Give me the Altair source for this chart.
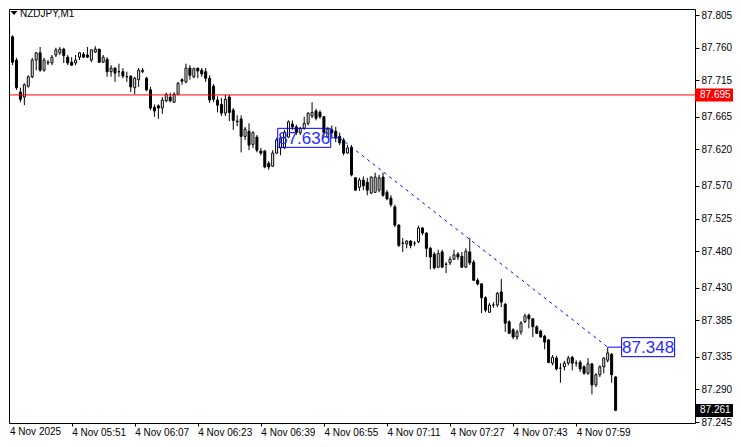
import altair as alt
import pandas as pd

# ---------------- data ----------------
symbol_title = "NZDJPY,M1"

opens = [87.787, 87.775, 87.743, 87.699, 87.692, 87.707, 87.720, 87.743, 87.753, 87.729,
         87.739, 87.739, 87.750, 87.753, 87.758, 87.747, 87.740, 87.739, 87.747, 87.751,
         87.750, 87.743, 87.754, 87.758, 87.740, 87.744, 87.727, 87.732, 87.727, 87.727,
         87.720, 87.721, 87.705, 87.716, 87.727, 87.718, 87.702, 87.678, 87.680, 87.677,
         87.687, 87.692, 87.685, 87.696, 87.716, 87.713, 87.732, 87.720, 87.732, 87.729,
         87.727, 87.718, 87.707, 87.688, 87.682, 87.670, 87.692, 87.674, 87.659, 87.662,
         87.638, 87.645, 87.627, 87.637, 87.618, 87.618, 87.601, 87.597, 87.615, 87.622,
         87.622, 87.637, 87.655, 87.651, 87.643, 87.649, 87.656, 87.666, 87.673, 87.671,
         87.665, 87.637, 87.647, 87.645, 87.638, 87.633, 87.615, 87.623, 87.581, 87.568,
         87.578, 87.575, 87.560, 87.561, 87.564, 87.582, 87.561, 87.553, 87.541, 87.516,
         87.491, 87.490, 87.494, 87.491, 87.493, 87.512, 87.505, 87.484, 87.476, 87.458,
         87.479, 87.462, 87.464, 87.469, 87.476, 87.473, 87.458, 87.479, 87.465, 87.440,
         87.435, 87.416, 87.396, 87.406, 87.406, 87.424, 87.407, 87.383, 87.372, 87.362,
         87.369, 87.383, 87.392, 87.387, 87.376, 87.370, 87.363, 87.358, 87.326, 87.333,
         87.319, 87.321, 87.326, 87.334, 87.326, 87.327, 87.321, 87.312, 87.325, 87.296,
         87.310, 87.321, 87.330, 87.338, 87.307]

highs = [87.791, 87.777, 87.746, 87.705, 87.711, 87.722, 87.746, 87.754, 87.761, 87.746,
         87.743, 87.750, 87.760, 87.761, 87.760, 87.750, 87.747, 87.750, 87.754, 87.754,
         87.761, 87.757, 87.762, 87.758, 87.750, 87.747, 87.736, 87.733, 87.738, 87.732,
         87.727, 87.722, 87.720, 87.732, 87.732, 87.720, 87.706, 87.682, 87.682, 87.692,
         87.698, 87.698, 87.699, 87.713, 87.718, 87.738, 87.736, 87.733, 87.732, 87.732,
         87.732, 87.722, 87.710, 87.693, 87.691, 87.695, 87.695, 87.677, 87.667, 87.667,
         87.651, 87.656, 87.645, 87.640, 87.622, 87.619, 87.604, 87.619, 87.636, 87.638,
         87.647, 87.660, 87.660, 87.654, 87.651, 87.665, 87.671, 87.685, 87.676, 87.674,
         87.666, 87.651, 87.653, 87.651, 87.643, 87.636, 87.626, 87.626, 87.582, 87.581,
         87.583, 87.581, 87.583, 87.588, 87.585, 87.588, 87.564, 87.557, 87.544, 87.517,
         87.498, 87.495, 87.495, 87.494, 87.515, 87.513, 87.506, 87.486, 87.479, 87.482,
         87.482, 87.465, 87.473, 87.482, 87.479, 87.479, 87.484, 87.498, 87.468, 87.443,
         87.436, 87.418, 87.409, 87.410, 87.424, 87.442, 87.409, 87.385, 87.374, 87.372,
         87.384, 87.394, 87.394, 87.388, 87.378, 87.372, 87.365, 87.359, 87.337, 87.336,
         87.326, 87.329, 87.336, 87.336, 87.330, 87.330, 87.323, 87.333, 87.326, 87.312,
         87.323, 87.334, 87.348, 87.340, 87.308]

lows = [87.766, 87.736, 87.702, 87.685, 87.681, 87.705, 87.718, 87.729, 87.727, 87.727,
        87.736, 87.736, 87.747, 87.750, 87.739, 87.736, 87.735, 87.736, 87.743, 87.746,
        87.746, 87.740, 87.753, 87.739, 87.739, 87.720, 87.720, 87.713, 87.720, 87.718,
        87.713, 87.699, 87.696, 87.706, 87.725, 87.700, 87.674, 87.665, 87.662, 87.669,
        87.685, 87.685, 87.684, 87.695, 87.709, 87.711, 87.716, 87.718, 87.718, 87.720,
        87.713, 87.684, 87.685, 87.671, 87.666, 87.666, 87.659, 87.647, 87.652, 87.616,
        87.633, 87.619, 87.622, 87.616, 87.612, 87.594, 87.592, 87.596, 87.614, 87.612,
        87.621, 87.636, 87.647, 87.640, 87.640, 87.647, 87.653, 87.663, 87.660, 87.662,
        87.637, 87.636, 87.637, 87.630, 87.626, 87.612, 87.614, 87.583, 87.563, 87.563,
        87.564, 87.557, 87.559, 87.560, 87.561, 87.555, 87.550, 87.541, 87.513, 87.486,
        87.479, 87.484, 87.484, 87.487, 87.491, 87.502, 87.472, 87.455, 87.455, 87.457,
        87.457, 87.450, 87.461, 87.468, 87.468, 87.457, 87.457, 87.461, 87.439, 87.433,
        87.395, 87.396, 87.395, 87.402, 87.403, 87.403, 87.369, 87.366, 87.359, 87.358,
        87.365, 87.381, 87.374, 87.362, 87.366, 87.361, 87.345, 87.326, 87.323, 87.316,
        87.299, 87.316, 87.323, 87.316, 87.321, 87.314, 87.310, 87.310, 87.283, 87.293,
        87.307, 87.312, 87.327, 87.299, 87.260]

closes = [87.775, 87.740, 87.705, 87.689, 87.709, 87.720, 87.743, 87.753, 87.729, 87.743,
          87.740, 87.747, 87.757, 87.758, 87.749, 87.739, 87.736, 87.743, 87.753, 87.747,
          87.747, 87.757, 87.758, 87.740, 87.747, 87.727, 87.732, 87.725, 87.727, 87.721,
          87.720, 87.706, 87.718, 87.729, 87.729, 87.702, 87.677, 87.673, 87.677, 87.688,
          87.696, 87.687, 87.696, 87.711, 87.714, 87.732, 87.722, 87.731, 87.728, 87.724,
          87.718, 87.688, 87.689, 87.681, 87.670, 87.689, 87.671, 87.660, 87.658, 87.638,
          87.648, 87.626, 87.643, 87.619, 87.615, 87.596, 87.596, 87.615, 87.633, 87.636,
          87.644, 87.658, 87.651, 87.643, 87.649, 87.656, 87.670, 87.671, 87.663, 87.665,
          87.643, 87.648, 87.643, 87.636, 87.629, 87.615, 87.622, 87.585, 87.564, 87.578,
          87.570, 87.564, 87.582, 87.582, 87.581, 87.557, 87.552, 87.544, 87.516, 87.488,
          87.491, 87.494, 87.488, 87.491, 87.512, 87.505, 87.484, 87.472, 87.457, 87.477,
          87.458, 87.462, 87.469, 87.475, 87.472, 87.458, 87.480, 87.464, 87.440, 87.435,
          87.416, 87.399, 87.406, 87.406, 87.422, 87.410, 87.381, 87.367, 87.362, 87.369,
          87.381, 87.391, 87.387, 87.376, 87.367, 87.362, 87.355, 87.327, 87.334, 87.318,
          87.319, 87.326, 87.333, 87.326, 87.326, 87.318, 87.312, 87.325, 87.296, 87.310,
          87.321, 87.333, 87.340, 87.310, 87.261]

first_label = "4 Nov 2025"
tick_bars = [16, 32, 48, 64, 80, 96, 112, 128, 144]
tick_labels = ["4 Nov 05:51", "4 Nov 06:07", "4 Nov 06:23", "4 Nov 06:39", "4 Nov 06:55",
               "4 Nov 07:11", "4 Nov 07:27", "4 Nov 07:43", "4 Nov 07:59"]
y_ticks = [87.805, 87.760, 87.715, 87.665, 87.620, 87.570, 87.525, 87.480,
           87.430, 87.385, 87.335, 87.290, 87.245]

hline_price = 87.695
last_price = 87.261
trend_bars = [84, 152]
trend_prices = [87.636, 87.348]
label_bars = [75, 162.25]          # where the two price labels of the trend line sit

# ---------------- layout ----------------
W, H = 686, 414
RIGHT = 38
PX_PER_BAR = 4
FONT = "Liberation Sans"
x_scale = alt.Scale(domain=[1.375, 1.375 + W / PX_PER_BAR], nice=False, zero=False)
y_scale = alt.Scale(domain=[87.24364, 87.81326], nice=False, zero=False)

n = len(opens)
candles = pd.DataFrame({"bar": list(range(n)), "open": opens, "high": highs,
                        "low": lows, "close": closes})
candles["dir"] = ["up" if c >= o else "down" for o, c in zip(opens, closes)]

label_expr = ("[" + ",".join("'%s'" % s for s in tick_labels) + "][indexof(["
              + ",".join(str(b) for b in tick_bars) + "], datum.value)]")

x_axis = alt.Axis(values=tick_bars, labelExpr=label_expr, title=None, grid=False,
                  domain=False, tickSize=3, tickColor="black", labelAlign="left",
                  labelBaseline="top", labelPadding=1, labelFlush=False,
                  labelOverlap=False, labelFont=FONT, labelFontSize=10,
                  labelColor="black")
y_axis = alt.Axis(orient="right", values=y_ticks, format=".3f", title=None, grid=False,
                  domain=False, tickSize=4, tickColor="black", labelPadding=2,
                  labelFont=FONT, labelFontSize=10, labelColor="black",
                  labelOverlap=False, labelBound=False)


def X(field):
    return alt.X(field, scale=x_scale, axis=x_axis)


def Y(field):
    return alt.Y(field, scale=y_scale, axis=y_axis)


wicks = alt.Chart(candles).mark_rule(color="black", strokeWidth=1, clip=True).encode(
    x=X("bar:Q"), y=Y("low:Q"), y2="high:Q",
)

bodies = alt.Chart(candles).mark_bar(size=2, stroke="black", strokeWidth=1, clip=True).encode(
    x=X("bar:Q"), y=Y("open:Q"), y2="close:Q",
    fill=alt.Fill("dir:N", scale=alt.Scale(domain=["up", "down"], range=["white", "black"]),
                  legend=None),
)

hline_df = pd.DataFrame({"price": [hline_price], "txt": ["%.3f" % hline_price]})
last_df = pd.DataFrame({"price": [last_price], "txt": ["%.3f" % last_price]})

hline = alt.Chart(hline_df).mark_rule(color="#ff0000", strokeWidth=1).encode(y=Y("price:Q"))

trend_df = pd.DataFrame({"bar": trend_bars, "price": trend_prices})
trend = alt.Chart(trend_df).mark_line(color="#0000ff", strokeWidth=1, strokeDash=[3, 4]).encode(
    x=X("bar:Q"), y=Y("price:Q"),
)

BOX_W, BOX_H = 53, 19
conn_df = pd.DataFrame({
    "x1": [trend_bars[0], trend_bars[1]],
    "x2": [label_bars[0] + BOX_W / 2 / PX_PER_BAR, label_bars[1]],
    "price": trend_prices,
})
connectors = alt.Chart(conn_df).mark_rule(color="#0000ff", strokeWidth=1).encode(
    x=X("x1:Q"), x2="x2:Q", y=Y("price:Q"),
)

lab_df = pd.DataFrame({"bar": label_bars, "price": trend_prices,
                       "txt": ["%.3f" % p for p in trend_prices],
                       "fill": ["transparent", "white"]})
boxes = alt.Chart(lab_df).mark_rect(width=BOX_W, height=BOX_H, stroke="#0000ff",
                                    strokeWidth=1).encode(
    x=X("bar:Q"), y=Y("price:Q"),
    fill=alt.Fill("fill:N", scale=None),
)
box_text = alt.Chart(lab_df).mark_text(font=FONT, fontSize=17, color="#2a2aff",
                                       align="center", baseline="middle", dy=1).encode(
    x=X("bar:Q"), y=Y("price:Q"), text="txt:N",
)


def price_tag(df, color):
    r = alt.Chart(df).mark_rect(height=13, color=color).encode(
        x=alt.value(W), x2=alt.value(W + RIGHT), y=Y("price:Q"))
    t = alt.Chart(df).mark_text(font=FONT, fontSize=10, color="white", align="left",
                                baseline="middle").encode(
        x=alt.value(W + 5), y=Y("price:Q"), text="txt:N")
    return [r, t]


title_df = pd.DataFrame({"t": [symbol_title]})
title_tri = alt.Chart(title_df).mark_point(
    shape="M-1,-0.57L1,-0.57L0,0.57Z", filled=True, color="black", size=49, opacity=1
).encode(x=alt.value(5), y=alt.value(4))
title_txt = alt.Chart(title_df).mark_text(font=FONT, fontSize=10, color="black",
                                          align="left", baseline="middle").encode(
    x=alt.value(11), y=alt.value(5), text="t:N")

first_df = pd.DataFrame({"t": [first_label]})
first_txt = alt.Chart(first_df).mark_text(font=FONT, fontSize=10, color="black",
                                          align="left", baseline="top").encode(
    x=alt.value(1), y=alt.value(H + 4), text="t:N")

chart = alt.layer(
    wicks, bodies, hline, trend, connectors, boxes, box_text,
    *price_tag(hline_df, "#ff0000"), *price_tag(last_df, "black"),
    title_tri, title_txt, first_txt
).properties(
    width=W, height=H,
    autosize=alt.AutoSizeParams(type="none"),
    padding={"left": 1, "top": 1, "right": RIGHT, "bottom": 16},
    background="white",
).configure_view(stroke="black", strokeWidth=1)

chart.save("out.html", embed_options={"renderer": "svg", "actions": False})
